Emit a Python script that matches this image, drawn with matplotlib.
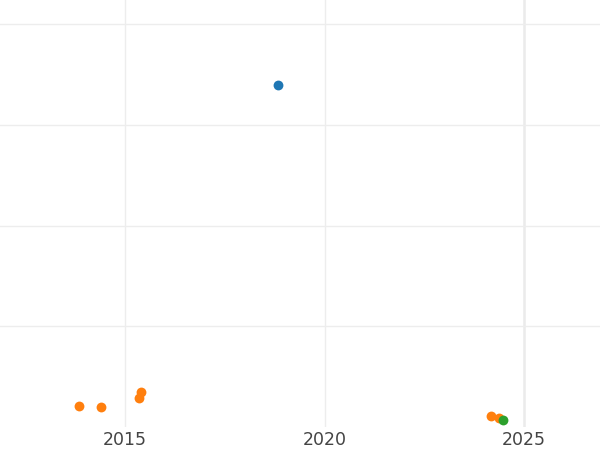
import matplotlib
matplotlib.use('Agg')
import matplotlib.pyplot as plt

# series values (x = year, y = arbitrary units)
blue_x = [2018.84]
blue_y = [3.40]
orange_x = [2013.85, 2014.40, 2015.35, 2015.40, 2024.18, 2024.38]
orange_y = [0.21, 0.20, 0.29, 0.35, 0.11, 0.09]
green_x = [2024.48]
green_y = [0.07]

x_ticks = [2015, 2020, 2025]
x_labels = ['2015', '2020', '2025']
y_ticks = [1, 2, 3, 4]

fig = plt.figure(figsize=(6, 4.5), dpi=100)
ax = fig.add_axes([0, 23/450, 1, 427/450])

ax.scatter(blue_x, blue_y, s=50, color='#1f77b4', zorder=3, linewidths=0)
ax.scatter(orange_x, orange_y, s=50, color='#ff7f0e', zorder=3, linewidths=0)
ax.scatter(green_x, green_y, s=50, color='#2ca02c', zorder=3, linewidths=0)

ax.set_xlim(2011.87, 2026.9)
ax.set_ylim(0, 4.24)
ax.set_xticks(x_ticks)
ax.set_xticklabels(x_labels)
ax.set_yticks(y_ticks)
ax.set_yticklabels([])

ax.grid(True, color='#ededed', linewidth=1)
ax.set_axisbelow(True)
# the 2025 line is drawn a bit heavier in the reference
ax.get_xgridlines()[2].set_linewidth(1.8)
ax.get_xgridlines()[2].set_color('#ebebeb')

for s in ax.spines.values():
    s.set_visible(False)
ax.tick_params(axis='both', length=0)
ax.tick_params(axis='x', labelsize=12.5, labelcolor='#444444', pad=3)

fig.savefig('out.png', dpi=100)
